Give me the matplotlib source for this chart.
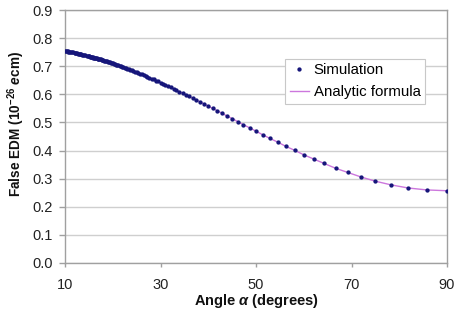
import matplotlib
matplotlib.use("Agg")
import matplotlib.pyplot as plt

plt.rcParams['font.family'] = ['Liberation Sans', 'DejaVu Sans']
plt.rcParams['mathtext.fontset'] = 'custom'
plt.rcParams['mathtext.rm'] = 'Liberation Sans:bold'
plt.rcParams['mathtext.it'] = 'Liberation Sans:italic:bold'
plt.rcParams['mathtext.bf'] = 'Liberation Sans:bold'

# Simulation points (angle in degrees, false EDM in 1e-26 e cm)
sim_angle = [90.0, 85.714, 81.818, 78.261, 75.0, 72.0, 69.231, 66.667, 64.286, 62.069,
             60.0, 58.065, 56.25, 54.545, 52.941, 51.429, 50.0, 48.649, 47.368, 46.154,
             45.0, 43.902, 42.857, 41.860, 40.909, 40.0, 39.130, 38.298, 37.5, 36.735,
             36.0, 35.294, 34.615, 33.962, 33.333, 32.727, 32.143, 31.579, 31.034, 30.508,
             30.0, 29.508, 29.032, 28.571, 28.125, 27.692, 27.273, 26.866, 26.471, 26.087,
             25.714, 25.352, 25.0, 24.658, 24.324, 24.0, 23.684, 23.377, 23.077, 22.785,
             22.5, 22.222, 21.951, 21.687, 21.429, 21.176, 20.930, 20.690, 20.455, 20.225,
             20.0, 19.780, 19.565, 19.355, 19.149, 18.947, 18.75, 18.557, 18.367, 18.182,
             18.0, 17.822, 17.647, 17.476, 17.308, 17.143, 16.981, 16.822, 16.667, 16.514,
             16.364, 16.216, 16.071, 15.929, 15.789, 15.652, 15.517, 15.385, 15.254, 15.126,
             15.0, 14.754, 14.516, 14.286, 14.063, 13.846, 13.636, 13.433, 13.235, 13.043,
             12.857, 12.676, 12.5, 12.329, 12.162, 12.0, 11.765, 11.538, 11.321, 11.111,
             10.909, 10.714, 10.526, 10.345, 10.169, 10.0]
sim_edm = [0.257, 0.260, 0.267, 0.278, 0.291, 0.306, 0.322, 0.337, 0.354, 0.370,
           0.385, 0.401, 0.415, 0.430, 0.443, 0.456, 0.469, 0.481, 0.492, 0.503,
           0.514, 0.523, 0.533, 0.542, 0.550, 0.558, 0.566, 0.573, 0.580, 0.586,
           0.593, 0.599, 0.604, 0.610, 0.615, 0.620, 0.625, 0.629, 0.634, 0.638,
           0.642, 0.646, 0.649, 0.653, 0.656, 0.659, 0.662, 0.665, 0.668, 0.671,
           0.673, 0.676, 0.678, 0.681, 0.683, 0.685, 0.687, 0.689, 0.691, 0.693,
           0.695, 0.697, 0.698, 0.700, 0.702, 0.703, 0.705, 0.706, 0.707, 0.709,
           0.710, 0.711, 0.712, 0.714, 0.715, 0.716, 0.717, 0.718, 0.719, 0.720,
           0.721, 0.722, 0.723, 0.724, 0.725, 0.725, 0.726, 0.727, 0.728, 0.729,
           0.729, 0.730, 0.731, 0.731, 0.732, 0.733, 0.733, 0.734, 0.734, 0.735,
           0.736, 0.737, 0.738, 0.739, 0.740, 0.741, 0.741, 0.742, 0.743, 0.744,
           0.745, 0.745, 0.746, 0.747, 0.747, 0.748, 0.749, 0.750, 0.750, 0.751,
           0.752, 0.752, 0.753, 0.753, 0.754, 0.755]

x_ticks = [10, 30, 50, 70, 90]
y_ticks = [0.0, 0.1, 0.2, 0.3, 0.4, 0.5, 0.6, 0.7, 0.8, 0.9]
y_tick_labels = ['0.0', '0.1', '0.2', '0.3', '0.4', '0.5', '0.6', '0.7', '0.8', '0.9']

W, H = 454, 316
fig = plt.figure(figsize=(W / 100, H / 100), dpi=100)
ax = fig.add_axes([65 / W, 1 - 263 / H, (447 - 65) / W, (263 - 10) / H])

ax.plot(sim_angle, sim_edm, color='#cc77dd', lw=1.0, zorder=2, label='Analytic formula')
ax.plot(sim_angle, sim_edm, ls='none', marker='o', ms=3.1, mec='none',
        color='#16167a', zorder=3, label='Simulation')

ax.set_xlim(10, 90)
ax.set_ylim(0, 0.9)
ax.set_xticks(x_ticks)
ax.set_xticklabels([str(t) for t in x_ticks])
ax.set_yticks(y_ticks)
ax.set_yticklabels(y_tick_labels)
ax.yaxis.grid(True, color='#cfcfcf', lw=1.0)
ax.set_axisbelow(True)
for s in ax.spines.values():
    s.set_color('#a0a0a0')
    s.set_linewidth(1.0)
ax.tick_params(axis='y', direction='out', length=4, width=1, color='#a0a0a0',
               pad=4.5, labelsize=10.5, labelcolor='#222222')
ax.tick_params(axis='x', direction='out', length=3, width=1, color='#a0a0a0',
               pad=7.5, labelsize=10.5, labelcolor='#222222')

fig.text(256 / W, 1 - 301 / H, r'Angle $\alpha$ (degrees)', ha='center', va='center',
         fontsize=10.5, fontweight='bold', color='#111111')
fig.text(16 / W, 1 - 124 / H, r'False EDM (10$^{-26}$ $e$cm)', ha='center', va='center',
         rotation=90, fontsize=9.8, fontweight='bold', color='#111111')

h, l = ax.get_legend_handles_labels()
leg = ax.legend([h[1], h[0]], [l[1], l[0]], loc='upper left',
                bbox_to_anchor=(285 / W, 1 - 59 / H), bbox_transform=fig.transFigure,
                borderaxespad=0, frameon=True, fancybox=False, numpoints=1,
                fontsize=10.8, labelspacing=0.5, handlelength=1.3, handletextpad=0.3,
                borderpad=0.3)
leg.get_frame().set_edgecolor('#c8c8c8')
leg.get_frame().set_linewidth(0.8)
leg.get_frame().set_facecolor('white')
leg.get_frame().set_alpha(1)

fig.savefig('out.png', dpi=100)
